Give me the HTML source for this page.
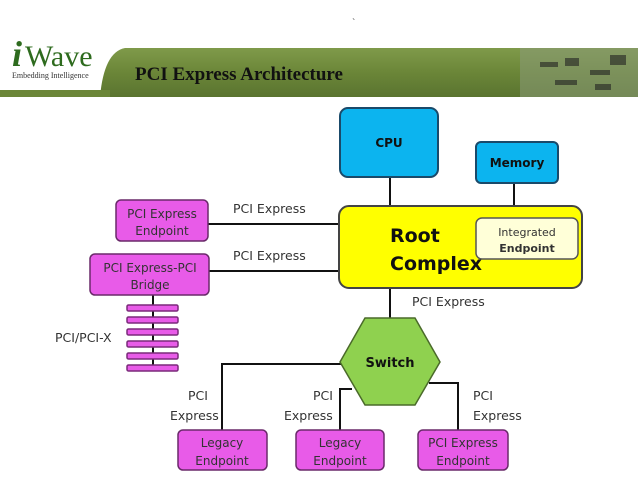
<!DOCTYPE html>
<html><head><meta charset="utf-8"><style>
body{margin:0;width:638px;height:479px;background:#fff;overflow:hidden}
svg{display:block}
.s{font-family:"DejaVu Sans","Liberation Sans",sans-serif}
.r{font-family:"Liberation Serif",serif}
</style></head><body>
<svg width="638" height="479" viewBox="0 0 638 479" xmlns="http://www.w3.org/2000/svg">
<defs>
<linearGradient id="band" x1="0" y1="0" x2="0" y2="1">
<stop offset="0" stop-color="#7f9a4a"/><stop offset="0.5" stop-color="#6b8638"/><stop offset="1" stop-color="#5a7430"/>
</linearGradient>
</defs>
<path d="M125,48 L638,48 L638,97 L100,97 Q104,52 125,48 Z" fill="url(#band)"/>
<rect x="0" y="90" width="110" height="7" fill="#6b8638"/>
<rect x="520" y="48" width="118" height="49" fill="#8a9a78" opacity="0.55"/>
<g fill="#222" opacity="0.6"><rect x="540" y="62" width="18" height="5"/><rect x="565" y="58" width="14" height="8"/><rect x="590" y="70" width="20" height="5"/><rect x="610" y="55" width="16" height="10"/><rect x="555" y="80" width="22" height="5"/><rect x="595" y="84" width="16" height="6"/></g>
<text class="r" x="352" y="26" font-size="10" fill="#333">`</text>
<text class="r" x="12" y="66" font-size="36" fill="#2e6b1e" font-style="italic" font-weight="bold">i</text>
<text class="r" x="25" y="66" font-size="30" fill="#2e6b1e">Wave</text>
<text class="r" x="12" y="78" font-size="8" fill="#333">Embedding Intelligence</text>
<text class="r" x="135" y="80" font-size="19" font-weight="bold" fill="#111">PCI Express Architecture</text>

<g stroke="#111" stroke-width="2" fill="none">
<line x1="390" y1="177" x2="390" y2="206"/>
<line x1="514" y1="183" x2="514" y2="206"/>
<line x1="208" y1="224" x2="339" y2="224"/>
<line x1="209" y1="271" x2="339" y2="271"/>
<line x1="390" y1="288" x2="390" y2="320"/>
<polyline points="355,364 222,364 222,430"/>
<polyline points="352,389 340,389 340,430"/>
<polyline points="429,383 458,383 458,430"/>
<line x1="153" y1="295" x2="153" y2="370"/>
</g>
<g fill="#e85be8" stroke="#7a2a7a" stroke-width="1.5">
<rect x="127" y="305" width="51" height="6" rx="1.5"/>
<rect x="127" y="317" width="51" height="6" rx="1.5"/>
<rect x="127" y="329" width="51" height="6" rx="1.5"/>
<rect x="127" y="341" width="51" height="6" rx="1.5"/>
<rect x="127" y="353" width="51" height="6" rx="1.5"/>
<rect x="127" y="365" width="51" height="6" rx="1.5"/>
</g>
<rect x="340" y="108" width="98" height="69" rx="8" fill="#0cb4ef" stroke="#1a4a6a" stroke-width="2"/>
<text class="s" x="389" y="147" font-size="12" font-weight="bold" text-anchor="middle" fill="#111">CPU</text>
<rect x="476" y="142" width="82" height="41" rx="5" fill="#0cb4ef" stroke="#1a4a6a" stroke-width="2"/>
<text class="s" x="517" y="167" font-size="12" font-weight="bold" text-anchor="middle" fill="#111">Memory</text>
<rect x="339" y="206" width="243" height="82" rx="10" fill="#ffff00" stroke="#444" stroke-width="2"/>
<text class="s" x="390" y="242" font-size="19" font-weight="bold" fill="#111">Root</text>
<text class="s" x="390" y="270" font-size="19" font-weight="bold" fill="#111">Complex</text>
<rect x="476" y="218" width="102" height="41" rx="6" fill="#ffffd8" stroke="#555" stroke-width="1.5"/>
<text class="s" x="527" y="236" font-size="11" text-anchor="middle" fill="#333">Integrated</text>
<text class="s" x="527" y="252" font-size="11" font-weight="bold" text-anchor="middle" fill="#333">Endpoint</text>
<polygon points="340,362 365,318 415,318 440,362 415,405 365,405" fill="#8fd14f" stroke="#4a6a2a" stroke-width="1.5"/>
<text class="s" x="390" y="367" font-size="13" font-weight="bold" text-anchor="middle" fill="#111">Switch</text>
<g fill="#e85be8" stroke="#6a2a6a" stroke-width="1.5">
<rect x="116" y="200" width="92" height="41" rx="5"/>
<rect x="90" y="254" width="119" height="41" rx="5"/>
<rect x="178" y="430" width="89" height="40" rx="5"/>
<rect x="296" y="430" width="88" height="40" rx="5"/>
<rect x="418" y="430" width="90" height="40" rx="5"/>
</g>
<g class="s" font-size="12" fill="#333" text-anchor="middle">
<text x="162" y="218">PCI Express</text><text x="162" y="235">Endpoint</text>
<text x="150" y="272">PCI Express-PCI</text><text x="150" y="289">Bridge</text>
<text x="222" y="447">Legacy</text><text x="222" y="465">Endpoint</text>
<text x="340" y="447">Legacy</text><text x="340" y="465">Endpoint</text>
<text x="463" y="447">PCI Express</text><text x="463" y="465">Endpoint</text>
</g>
<g class="s" font-size="12.5" fill="#333">
<text x="233" y="213">PCI Express</text>
<text x="233" y="260">PCI Express</text>
<text x="412" y="306">PCI Express</text>
<text x="55" y="342">PCI/PCI-X</text>
<text x="188" y="400">PCI</text><text x="170" y="420">Express</text>
<text x="313" y="400">PCI</text><text x="284" y="420">Express</text>
<text x="473" y="400">PCI</text><text x="473" y="420">Express</text>
</g>
</svg>
</body></html>
